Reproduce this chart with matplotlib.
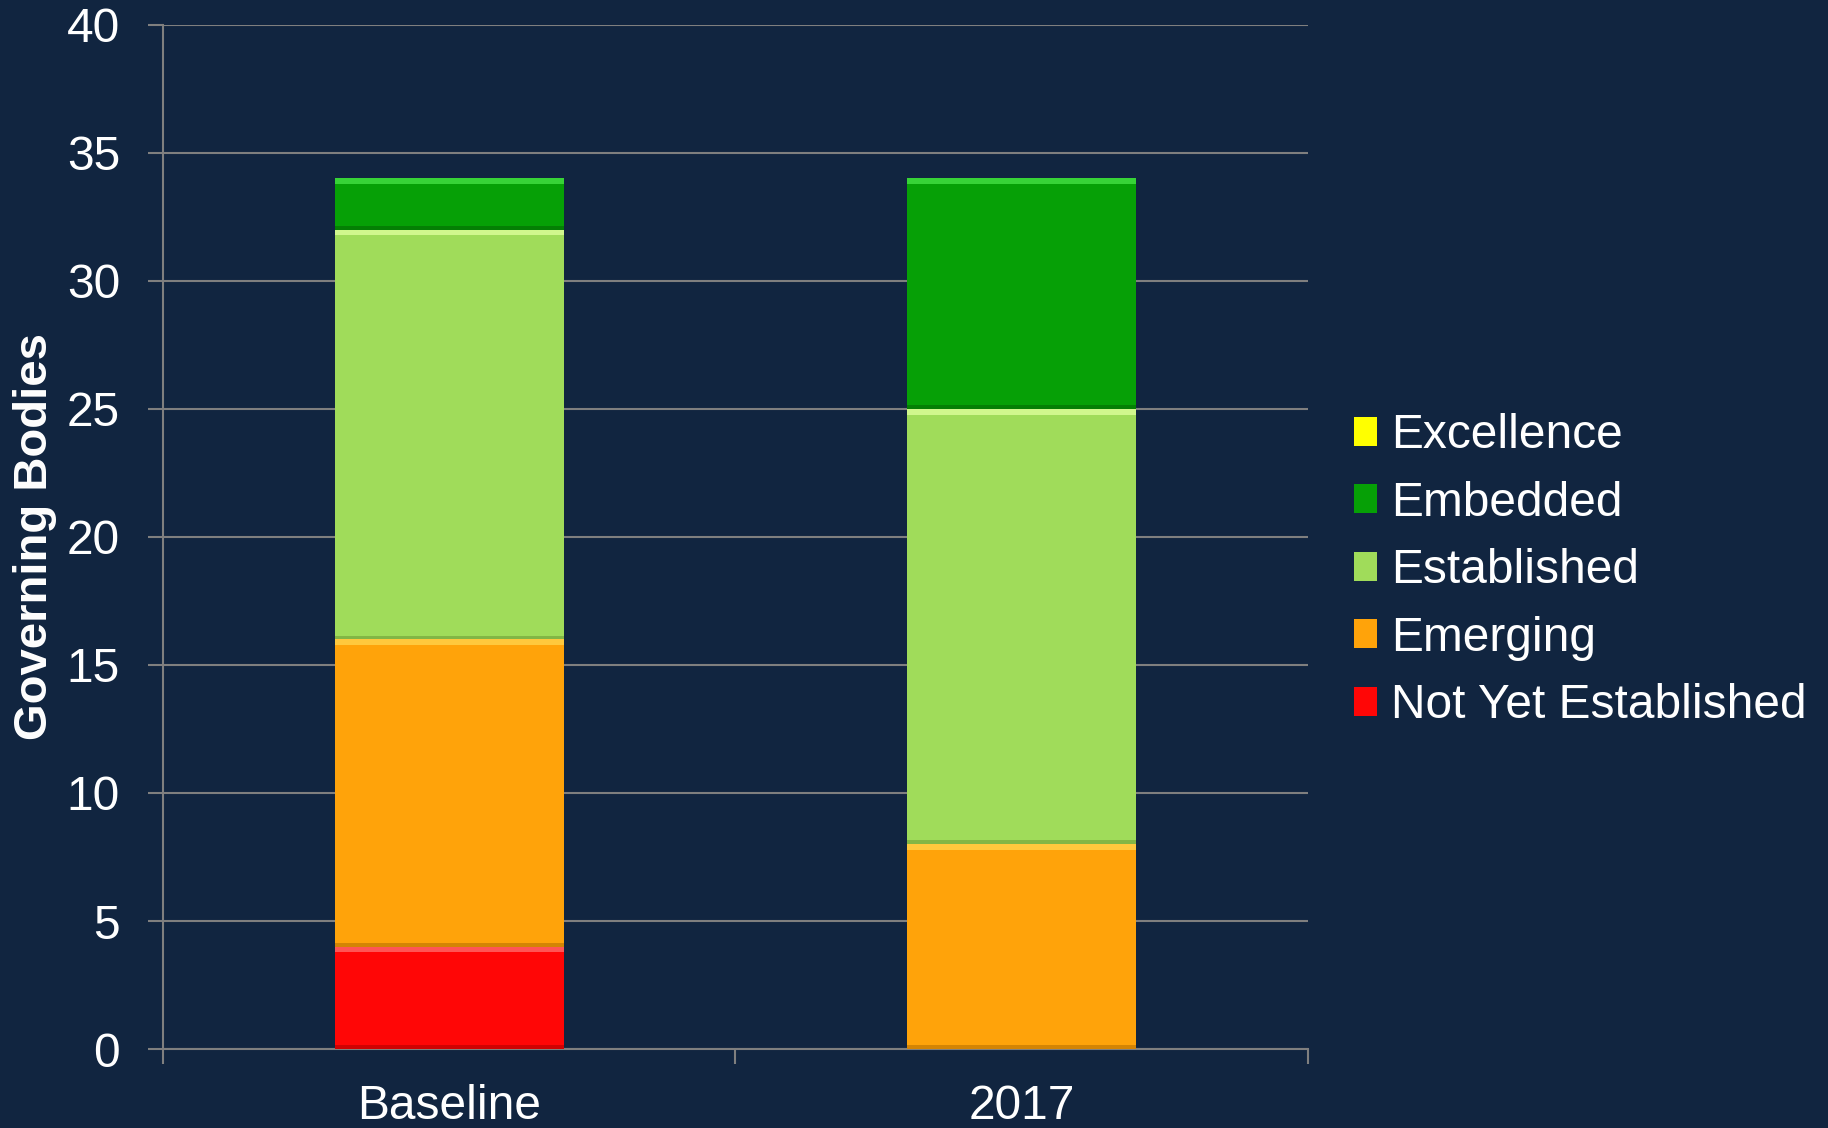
import matplotlib
matplotlib.use("Agg")
import matplotlib.pyplot as plt
from matplotlib.patches import Patch
import numpy as np

# ---- data ----
categories = ["Baseline", "2017"]
series_names = ["Not Yet Established", "Emerging", "Established", "Embedded", "Excellence"]
not_yet = [4, 0]
emerging = [12, 8]
established = [16, 17]
embedded = [2, 9]
excellence = [0, 0]
y_ticks = [0, 5, 10, 15, 20, 25, 30, 35, 40]
y_label = "Governing Bodies"

series_values = [not_yet, emerging, established, embedded, excellence]
colors = ["#FF0606", "#FFA30A", "#A0DC5A", "#06A006", "#FFFF00"]
light = ["#FF6A6A", "#FFD24A", "#DDFF9A", "#44E044", "#FFFF90"]
dark = ["#B00000", "#B87000", "#6E9E38", "#046A04", "#B0B000"]

BG = "#112540"
GRID = "#7F7F7F"

plt.rcParams['font.family'] = ['Liberation Sans', 'DejaVu Sans']

fig = plt.figure(figsize=(18.28, 11.28), dpi=100, facecolor=BG)
ax = fig.add_axes([0.0892, 0.070, 0.7155 - 0.0892, 0.978 - 0.070])
ax.set_facecolor(BG)

x = np.arange(len(categories))
width = 0.4
bottom = np.zeros(len(categories))
for vals, c, lc, dc in zip(series_values, colors, light, dark):
    vals = np.array(vals, dtype=float)
    ax.bar(x, vals, width, bottom=bottom, color=c, edgecolor="none", zorder=3)
    # bevel-like highlight on top and shade at bottom of each segment
    mask = vals > 0
    if mask.any():
        ax.bar(x[mask], np.full(mask.sum(), 0.22), width,
               bottom=(bottom + vals)[mask] - 0.22, color=lc, edgecolor="none", zorder=4, alpha=0.8)
        ax.bar(x[mask], np.full(mask.sum(), 0.15), width,
               bottom=bottom[mask], color=dc, edgecolor="none", zorder=4, alpha=0.6)
    bottom += vals

ax.set_xlim(-0.5, len(categories) - 0.5)
ax.set_ylim(0, 40)
ax.set_yticks(y_ticks)
ax.set_yticklabels([str(t) for t in y_ticks])
ax.yaxis.grid(True, color=GRID, linewidth=1.5, zorder=0)
ax.set_axisbelow(True)

# x ticks at category boundaries, labels at centers
ax.set_xticks(np.arange(-0.5, len(categories), 1.0))
ax.set_xticklabels([])
ax.set_xticks(x, minor=True)
ax.set_xticklabels(categories, minor=True)
ax.tick_params(axis='x', which='major', length=11, width=1.5, color=GRID, direction='out')
ax.tick_params(axis='x', which='minor', length=0, pad=25, labelsize=34.5, labelcolor='white')
ax.tick_params(axis='y', length=11, width=1.5, color=GRID, direction='out', pad=20,
               labelsize=34.5, labelcolor='white')

for s in ["top", "right"]:
    ax.spines[s].set_visible(False)
ax.spines["left"].set_color(GRID)
ax.spines["left"].set_linewidth(1.5)
ax.spines["bottom"].set_color(GRID)
ax.spines["bottom"].set_linewidth(1.5)

fig.text(0.0191, 0.524, y_label, rotation=90, ha='center', va='center',
         fontsize=34, fontweight='bold', color='white')

handles = [Patch(facecolor=c, edgecolor='none') for c in colors][::-1]
labels = series_names[::-1]
leg = fig.legend(handles, labels, loc='center left', bbox_to_anchor=(0.7405, 0.494),
                 frameon=False, fontsize=34.5, labelcolor='white',
                 handlelength=0.48, handleheight=0.55, handletextpad=0.3,
                 labelspacing=0.47, borderpad=0, borderaxespad=0)

fig.savefig("out.png", dpi=100, facecolor=BG)
